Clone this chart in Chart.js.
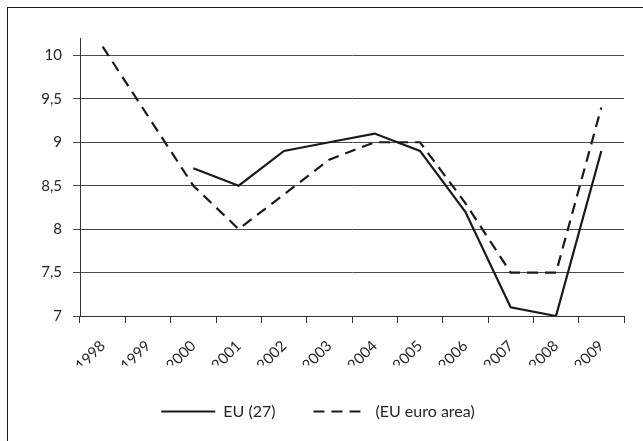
<!DOCTYPE html>
<html>
<head>
<meta charset="utf-8">
<script src="https://cdn.jsdelivr.net/npm/chart.js@4/dist/chart.umd.min.js"></script>
<style>
  html, body { margin: 0; padding: 0; background: #fff; overflow: hidden; }
  #wrap { position: relative; width: 643px; height: 441px; }
  #frame { position: absolute; left: 7px; top: 7px; width: 700px; height: 500px;
           border-top: 1px solid #1a1a1a; border-left: 1px solid #1a1a1a; }
  canvas { position: absolute; left: 0; top: 0; }
</style>
</head>
<body>
<div id="wrap">
  <div id="frame"></div>
  <canvas id="c" width="643" height="441"></canvas>
</div>
<script>
const years = ['1998','1999','2000','2001','2002','2003','2004','2005','2006','2007','2008','2009'];
const eu27 = [null, null, 8.7, 8.5, 8.9, 9.0, 9.1, 8.9, 8.2, 7.1, 7.0, 8.9];
const euroArea = [10.1, 9.3, 8.5, 8.0, 8.4, 8.8, 9.0, 9.0, 8.3, 7.5, 7.5, 9.4];
const seriesNames = ['EU (27)', '(EU euro area)'];
const yMin = 7, yMax = 10.2, yStep = 0.5;

const textColor = '#262626';
const FONT = 'Lato, "Open Sans", sans-serif';

new Chart(document.getElementById('c'), {
  type: 'line',
  data: {
    labels: years,
    datasets: [
      { label: seriesNames[0], data: eu27, borderColor: '#1a1a1a', backgroundColor: 'transparent',
        borderWidth: 2.2, pointRadius: 0, pointStyle: 'line', tension: 0, spanGaps: false },
      { label: seriesNames[1], data: euroArea, borderColor: '#1a1a1a', backgroundColor: 'transparent',
        borderWidth: 2.2, borderDash: [11, 7], pointRadius: 0, pointStyle: 'line', tension: 0 }
    ]
  },
  options: {
    responsive: false,
    animation: false,
    devicePixelRatio: 1,
    layout: { padding: { top: 38, left: 12, right: 19, bottom: 11.5 } },
    plugins: {
      tooltip: { enabled: false },
      legend: {
        position: 'bottom',
        labels: {
          usePointStyle: true, pointStyle: 'line', pointStyleWidth: 54, boxHeight: 16,
          padding: 38, color: textColor,
          font: { family: FONT, size: 16 },
          generateLabels: chart => {
            const items = Chart.defaults.plugins.legend.labels.generateLabels(chart);
            return items.map(it => {
              const ds = chart.data.datasets[it.datasetIndex];
              return Object.assign(it, {
                lineDash: ds.borderDash || [], lineWidth: ds.borderWidth,
                strokeStyle: ds.borderColor, pointStyle: 'line'
              });
            });
          }
        }
      }
    },
    scales: {
      x: {
        offset: true,
        grid: { offset: true, drawOnChartArea: false, drawTicks: true, tickLength: 7, color: '#333', lineWidth: 1 },
        border: { color: '#333', width: 1 },
        ticks: { autoSkip: false, minRotation: 45, maxRotation: 45, padding: 14, color: textColor,
                 font: { family: FONT, size: 15 } },
        afterFit: s => { s.height = 49.5; s.paddingRight = 12; s.paddingLeft = 0; }
      },
      y: {
        min: yMin, max: yMax,
        ticks: { stepSize: yStep, padding: 11, color: textColor, font: { family: FONT, size: 15 },
                 callback: v => String(v).replace('.', ',') },
        afterBuildTicks: s => { s.ticks = s.ticks.filter(t => Math.abs(t.value * 2 - Math.round(t.value * 2)) < 1e-6); },
        grid: { color: '#4a4a4a', lineWidth: 1, tickLength: 7 },
        border: { color: '#333', width: 1 },
        afterFit: s => { s.width = 68; s.paddingTop = 0; s.paddingBottom = 0; }
      }
    }
  }
});
</script>
</body>
</html>
